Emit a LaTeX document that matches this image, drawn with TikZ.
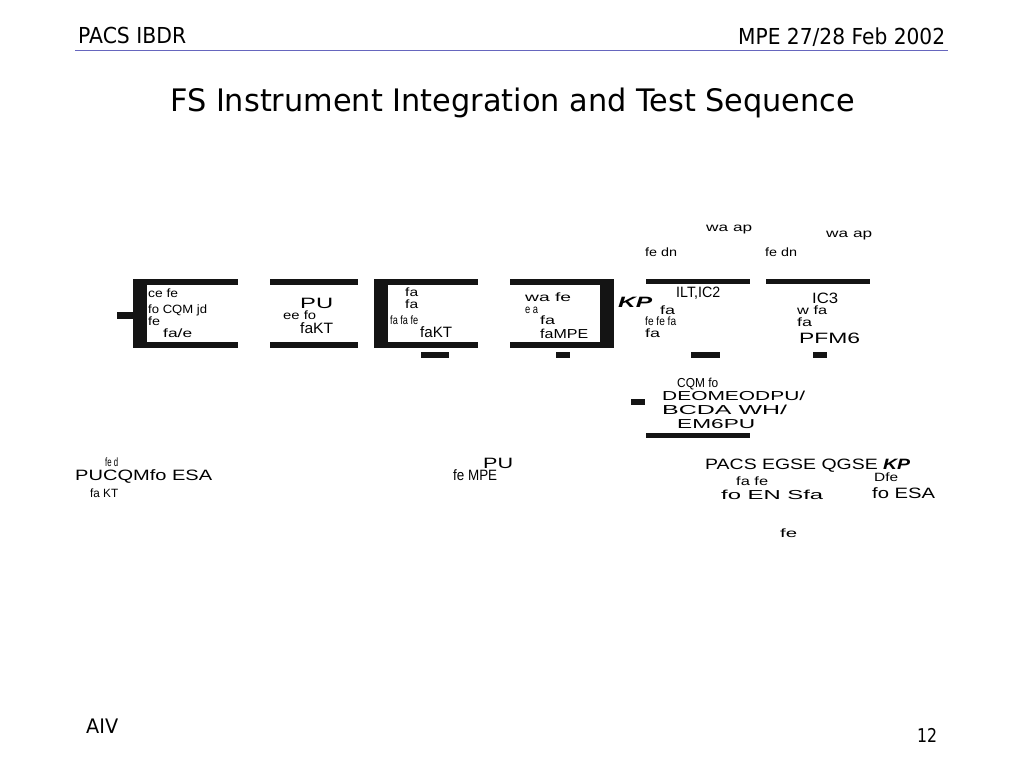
\documentclass[tikz,border=0pt]{standalone}
\usepackage{fontspec}
\setmainfont{Liberation Sans}
\newfontfamily\tah{DejaVu Sans}
\usepackage{graphicx}
\newcommand{\gw}[2]{\resizebox{#1pt}{\height}{#2}}
\definecolor{rulecol}{RGB}{102,102,190}
\begin{document}
\begin{tikzpicture}[x=1pt,y=-1pt,
  bar/.style={fill=black!92,draw=none},
  g/.style={anchor=base west,inner sep=0pt,font=\fontsize{12}{12}\selectfont},
  gb/.style={anchor=base west,inner sep=0pt,font=\fontsize{15}{15}\selectfont},
  gm/.style={anchor=base west,inner sep=0pt,font=\fontsize{13}{13}\selectfont},
  hdr/.style={anchor=base west,inner sep=0pt,font=\tah\fontsize{22}{22}\selectfont}]
\useasboundingbox[fill=white] (0,0) rectangle (1024,768);
% header
\node[hdr] (h1) at (78,44) {\gw{108}{PACS IBDR}};
\node[hdr] (h2) at (738,45) {\gw{207}{MPE 27/28 Feb 2002}};
\draw[rulecol,line width=1.5pt] (75,50.5) -- (948,50.5);
\node[anchor=base west,inner sep=0pt,font=\tah\fontsize{31}{31}\selectfont] (title) at (170,111) {\gw{685}{FS Instrument Integration and Test Sequence}};
% footer
\node[anchor=base west,inner sep=0pt,font=\tah\fontsize{20}{20}\selectfont] (aiv) at (86,733) {\gw{32}{AIV}};
\node[anchor=base west,inner sep=0pt,font=\tah\fontsize{19}{19}\selectfont] (pg) at (917,742) {\gw{20}{12}};
% bars
\fill[bar] (133,279) rectangle (147,348);
\fill[bar] (133,279) rectangle (238,285);
\fill[bar] (133,342) rectangle (238,348);
\fill[bar] (117,312) rectangle (133,319);
\fill[bar] (270,279) rectangle (358,285);
\fill[bar] (270,342) rectangle (358,348);
\fill[bar] (374,279) rectangle (388,348);
\fill[bar] (374,279) rectangle (478,285);
\fill[bar] (374,342) rectangle (478,348);
\fill[bar] (421,352) rectangle (449,358);
\fill[bar] (600,279) rectangle (614,348);
\fill[bar] (510,279) rectangle (614,285);
\fill[bar] (510,342) rectangle (614,348);
\fill[bar] (556,352) rectangle (570,358);
\fill[bar] (646,279) rectangle (750,284);
\fill[bar] (691,352) rectangle (720,358);
\fill[bar] (766,279) rectangle (870,284);
\fill[bar] (813,352) rectangle (827,358);
\fill[bar] (631,399) rectangle (645,405);
\fill[bar] (646,433) rectangle (750,438);
% box 1
\node[g] (a1) at (148,297) {\gw{30}{ce fe}};
\node[g] (a2) at (148,313) {\gw{59}{fo CQM jd}};
\node[g] (a3) at (148,325) {\gw{12}{fe}};
\node[g] (a4) at (163,337) {\gw{29}{fa/e}};
% box 2
\node[gb] (b1) at (300,308) {\gw{33}{PU}};
\node[g] (b2) at (283,319) {\gw{33}{ee fo}};
\node[gb] (b3) at (300,333) {\gw{33}{faKT}};
% box 3
\node[g] (c1) at (405,296) {\gw{13}{fa}};
\node[g] (c2) at (405,308) {\gw{13}{fa}};
\node[g] (c3) at (390,324) {\gw{28}{fa fa fe}};
\node[gb] (c4) at (420,337) {\gw{32}{faKT}};
% box 4
\node[g] (d1) at (525,301) {\gw{46}{wa fe}};
\node[g] (d2) at (525,313) {\gw{13}{e a}};
\node[g] (d3) at (540,324) {\gw{15}{fa}};
\node[gm] (d4) at (540,338) {\gw{48}{faMPE}};
\node[anchor=base west,inner sep=0pt,font=\fontsize{15}{15}\selectfont\bfseries\itshape] (kp1) at (618,307) {\gw{34}{KP}};
% right group
\node[g] (e1) at (706,231) {\gw{46}{wa ap}};
\node[g] (e2) at (826,237) {\gw{46}{wa ap}};
\node[g] (e3) at (645,256) {\gw{32}{fe dn}};
\node[g] (e4) at (765,256) {\gw{32}{fe dn}};
\node[gb] (e5) at (676,297) {\gw{44}{ILT,IC2}};
\node[g] (e6) at (660,314) {\gw{15}{fa}};
\node[g] (e7) at (645,325) {\gw{31}{fe fe fa}};
\node[g] (e8) at (645,337) {\gw{15}{fa}};
\node[gb] (f1) at (812,303) {\gw{26}{IC3}};
\node[g] (f2) at (797,314) {\gw{30}{w fa}};
\node[g] (f3) at (797,326) {\gw{15}{fa}};
\node[gb] (f4) at (799,343) {\gw{61}{PFM6}};
% group 7
\node[gm] (h7a) at (677,387) {\gw{41}{CQM fo}};
\node[gm] (h7b) at (662,400) {\gw{143}{DEOMEODPU/}};
\node[gm] (h7c) at (662,414) {\gw{125}{BCDA WH/}};
\node[gm] (h7d) at (677,428) {\gw{78}{EM6PU}};
% bottom row
\node[g] (k1) at (105,466) {\gw{13}{fe d}};
\node[gb] (k2) at (75,480) {\gw{137}{PUCQMfo ESA}};
\node[g] (k3) at (90,497) {\gw{28}{fa KT}};
\node[gb] (m1) at (483,468) {\gw{30}{PU}};
\node[gb] (m2) at (453,480) {\gw{44}{fe MPE}};
\node[gb] (n1) at (705,469) {\gw{205}{PACS EGSE QGSE \textbf{\textit{KP}}}};
\node[g] (n2) at (874,481) {\gw{24}{Dfe}};
\node[g] (n3) at (736,485) {\gw{32}{fa fe}};
\node[gm] (n4) at (721,499) {\gw{102}{fo EN Sfa}};
\node[gb] (n5) at (872,498) {\gw{63}{fo ESA}};
\node[g] (n6) at (780,537) {\gw{17}{fe}};
\end{tikzpicture}
\end{document}
